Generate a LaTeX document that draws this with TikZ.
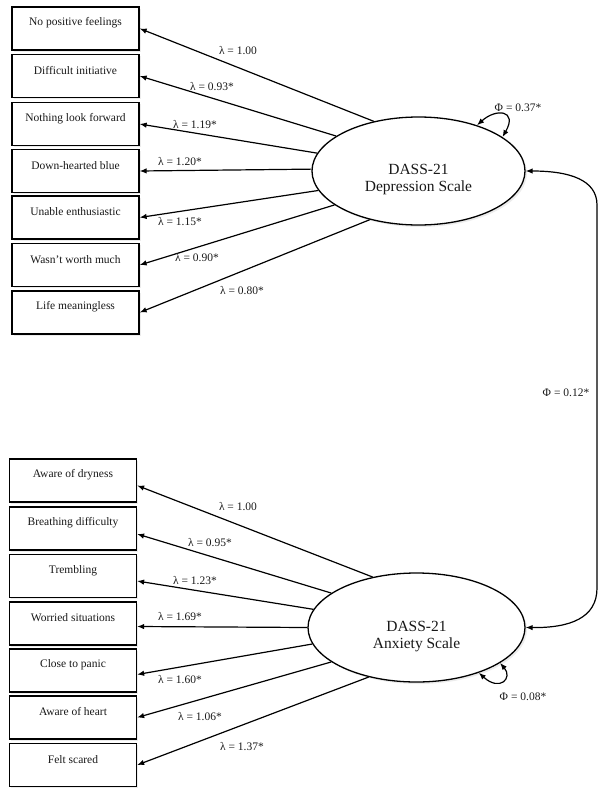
\documentclass[tikz,border=0pt]{standalone}
\usepackage{fontspec}
\setmainfont{Liberation Serif}
\usetikzlibrary{shapes.geometric,arrows.meta,shadows}
\begin{document}
\begin{tikzpicture}[x=1pt,y=-1pt,
  every node/.style={text=black!90},
  box/.style={draw, line width=1.3pt, minimum width=127pt, minimum height=43pt, inner sep=0pt, fill=white,
     drop shadow={opacity=0.15, shadow xshift=1.5pt, shadow yshift=-1.5pt}},
  boxtxt/.style={font=\fontsize{11.5}{13}\selectfont},
  lat/.style={ellipse, draw, line width=1.3pt, fill=white, inner sep=0pt,
     drop shadow={opacity=0.15, shadow xshift=2pt, shadow yshift=-2pt}},
  lattxt/.style={font=\fontsize{15.5}{18}\selectfont, align=center},
  lbl/.style={font=\fontsize{11.5}{13}\selectfont, inner sep=1pt},
  arr/.style={line width=1.2pt, -{Latex[length=7pt,width=5.5pt]}},
  darr/.style={line width=1.2pt, {Latex[length=7pt,width=5.5pt]}-{Latex[length=7pt,width=5.5pt]}}
]
\useasboundingbox (0,0) rectangle (603,798);

% Depression indicators
\foreach \n/\y/\t in {d1/28.5/No positive feelings, d2/76/Difficult initiative, d3/124/Nothing look forward,
  d4/171/Down-hearted blue, d5/217.5/Unable enthusiastic, d6/265/Wasn't worth much, d7/312.5/Life meaningless}{
  \node[box] (\n) at (75.5,\y) {};
  \node[boxtxt] (\n t) at ([yshift=-16.5pt]\n.north) {\t};
}
% Anxiety indicators
\foreach \n/\y/\t in {a1/480.5/Aware of dryness, a2/528.5/Breathing difficulty, a3/576/Trembling,
  a4/623.5/Worried situations, a5/670.5/Close to panic, a6/717.5/Aware of heart, a7/765/Felt scared}{
  \node[box] (\n) at (73,\y) {};
  \node[boxtxt] (\n t) at ([yshift=-16.5pt]\n.north) {\t};
}

% Latent variables
\node[lat, minimum width=213pt, minimum height=108pt] (D) at (418.5,171) {};
\node[lattxt] (Dt) at (418.5,179.5) {DASS-21\\[-1pt]Depression Scale};
\node[lat, minimum width=217pt, minimum height=109pt] (A) at (416.5,627.5) {};
\node[lattxt] (At) at (416.5,637) {DASS-21\\[-1pt]Anxiety Scale};

% Depression loadings
\draw[arr] (D.132.9) -- (d1.east);
\draw[arr] (D.157.8) -- (d2.east);
\draw[arr] (D.170.1) -- (d3.east);
\draw[arr] (D.179.5) -- (d4.east);
\draw[arr] (D.191.2) -- (d5.east);
\draw[arr] (D.202.3) -- (d6.east);
\draw[arr] (D.225.9) -- (d7.east);

% Anxiety loadings
\draw[arr] (A.131.4) -- ([yshift=-5pt]a1.east);
\draw[arr] (A.158.3) -- ([yshift=-5.5pt]a2.east);
\draw[arr] (A.170.5) -- ([yshift=-5pt]a3.east);
\draw[arr] (A.180) -- ([yshift=-3pt]a4.east);
\draw[arr] (A.189.1) -- ([yshift=-4pt]a5.east);
\draw[arr] (A.202.3) -- (a6.east);
\draw[arr] (A.226.2) -- (a7.east);

% Loading labels
\node[lbl] (l1) at (238,51) {λ = 1.00};
\node[lbl] (l2) at (212,87) {λ = 0.93*};
\node[lbl] (l3) at (195,125) {λ = 1.19*};
\node[lbl] (l4) at (180,162) {λ = 1.20*};
\node[lbl] (l5) at (180,222) {λ = 1.15*};
\node[lbl] (l6) at (197,258) {λ = 0.90*};
\node[lbl] (l7) at (242,291) {λ = 0.80*};

\node[lbl] (m1) at (238,507) {λ = 1.00};
\node[lbl] (m2) at (210,543) {λ = 0.95*};
\node[lbl] (m3) at (195,581) {λ = 1.23*};
\node[lbl] (m4) at (180,617) {λ = 1.69*};
\node[lbl] (m5) at (180,680) {λ = 1.60*};
\node[lbl] (m6) at (200,717) {λ = 1.06*};
\node[lbl] (m7) at (242,747) {λ = 1.37*};

% Variances
\draw[darr] (D.38) .. controls (496,108) and (518,110) .. (D.22.8);
\node[lbl] (pD) at (518,108) {Φ = 0.37*};
\draw[darr] (A.337.7) .. controls (513,678) and (500,692) .. (A.324);
\node[lbl] (pA) at (523,697) {Φ = 0.08*};

% Covariance
\coordinate (c1) at (597,205);
\coordinate (c2) at (597,588);
\draw[darr] (D.east) .. controls (570,171) and (597,180) .. (c1) -- (c2) .. controls (597,618) and (570,628) .. (A.east);
\node[lbl] (pDA) at (566,393) {Φ = 0.12*};
\end{tikzpicture}
\end{document}
